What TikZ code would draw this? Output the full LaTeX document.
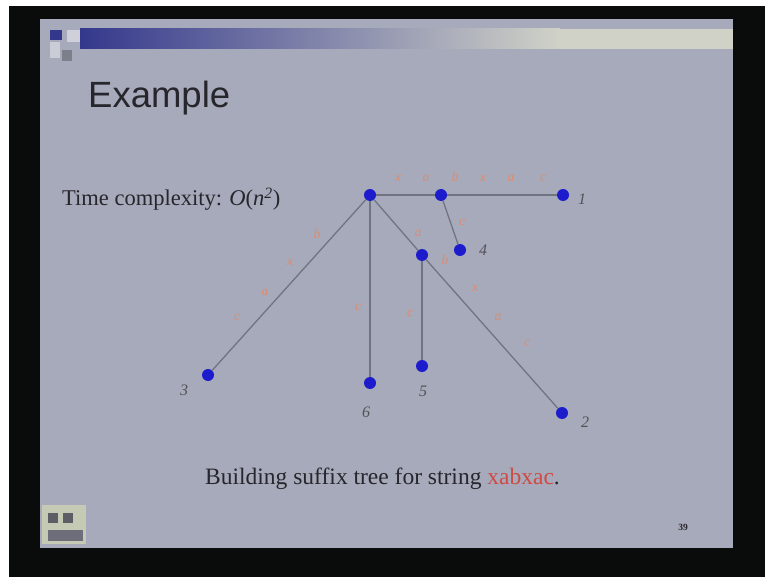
\documentclass[tikz,border=0pt]{standalone}
\usepackage{fontspec}
\setmainfont{Liberation Serif}
\newfontfamily\titlefont{Liberation Sans}
\definecolor{slidebg}{RGB}{167,170,186}
\definecolor{frameblk}{RGB}{10,12,12}
\definecolor{nodeblue}{RGB}{28,28,205}
\definecolor{edgegray}{RGB}{112,116,130}
\definecolor{lblcol}{RGB}{222,140,110}
\definecolor{txtcol}{RGB}{38,38,44}
\definecolor{barblue}{RGB}{52,56,140}
\definecolor{barlight}{RGB}{208,210,200}
\definecolor{capred}{RGB}{205,75,68}
\definecolor{iconbg}{RGB}{196,202,180}
\begin{document}
\begin{tikzpicture}[x=1pt,y=-1pt,
  dot/.style={circle,fill=nodeblue,inner sep=0pt,minimum size=12pt},
  edge/.style={draw=edgegray,line width=1.3pt},
  elbl/.style={text=lblcol,font=\itshape\fontsize{13.5}{13.5}\selectfont,inner sep=0pt},
  leaf/.style={text=txtcol!80,font=\itshape\fontsize{16}{16}\selectfont,inner sep=0pt},
  body/.style={text=txtcol,font=\fontsize{22.5}{22.5}\selectfont,inner sep=0pt,anchor=base west}]
\useasboundingbox (0,0) rectangle (765,577);
% background and slide
\fill[white] (0,0) rectangle (765,577);
\fill[frameblk] (9,6) rectangle (765,577);
\fill[slidebg] (40,19) rectangle (733,548);
% header decoration
\shade[left color=barblue,right color=barlight] (80,29) rectangle (560,49);
\fill[barlight] (560,29) rectangle (733,49);
\fill[barblue] (50,30) rectangle (62,40);
\fill[slidebg!60!white] (50,42) rectangle (60,58);
\fill[slidebg!75!black] (62,50) rectangle (72,61);
\fill[slidebg!55!white] (67,30) rectangle (80,42);
% title
\node[text=txtcol,font=\titlefont\fontsize{36.5}{36.5}\selectfont,inner sep=0pt,anchor=base west] (title) at (88,108) {Example};
% text
\node[body] (tc) at (62,206) {Time complexity: \textit{O}(\textit{n}\textsuperscript{\textit{2}})};
\node[body,font=\fontsize{23.5}{23.5}\selectfont] (cap) at (205,484) {Building suffix tree for string \textcolor{capred}{xabxac}.};
% tree nodes
\node[dot] (r) at (370,195) {};
\node[dot] (a) at (441,195) {};
\node[dot] (l1) at (563,195) {};
\node[dot] (l4) at (460,250) {};
\node[dot] (b) at (422,255) {};
\node[dot] (l5) at (422,366) {};
\node[dot] (l2) at (562,413) {};
\node[dot] (l6) at (370,383) {};
\node[dot] (l3) at (208,375) {};
% edges
\draw[edge] (r) -- (a);
\draw[edge] (a) -- (l1);
\draw[edge] (a) -- (l4);
\draw[edge] (r) -- (b);
\draw[edge] (b) -- (l2);
\draw[edge] (b) -- (l5);
\draw[edge] (r) -- (l6);
\draw[edge] (r) -- (l3);
% edge labels
\node[elbl] (t1) at (398,178) {x};
\node[elbl] (t2) at (426,178) {a};
\node[elbl] (t3) at (455,177) {b};
\node[elbl] (t4) at (483,178) {x};
\node[elbl] (t5) at (511,178) {a};
\node[elbl] (t6) at (543,178) {c};
\node[elbl] (c4) at (462,222) {c};
\node[elbl] (ab) at (418,233) {a};
\node[elbl] (b2) at (445,260) {b};
\node[elbl] (x2) at (475,288) {x};
\node[elbl] (a2) at (498,317) {a};
\node[elbl] (cc2) at (527,343) {c};
\node[elbl] (c6) at (358,307) {c};
\node[elbl] (c5) at (410,313) {c};
\node[elbl] (b3) at (317,234) {b};
\node[elbl] (x3) at (290,262) {x};
\node[elbl] (a3) at (265,292) {a};
\node[elbl] (c3) at (237,317) {c};
% leaf labels
\node[leaf] (n1) at (582,199) {1};
\node[leaf] (n4) at (483,250) {4};
\node[leaf] (n3) at (184,390) {3};
\node[leaf] (n6) at (366,412) {6};
\node[leaf] (n5) at (423,391) {5};
\node[leaf] (n2) at (585,422) {2};
% bottom-left icon
\fill[iconbg] (42,505) rectangle (86,544);
\fill[slidebg!55!black] (48,513) rectangle (58,523);
\fill[slidebg!55!black] (63,513) rectangle (73,523);
\fill[slidebg!65!black] (48,530) rectangle (83,541);
% page number
\node[text=txtcol,font=\bfseries\fontsize{9.5}{9.5}\selectfont,inner sep=0pt] (pg) at (683,527) {39};
\end{tikzpicture}
\end{document}
